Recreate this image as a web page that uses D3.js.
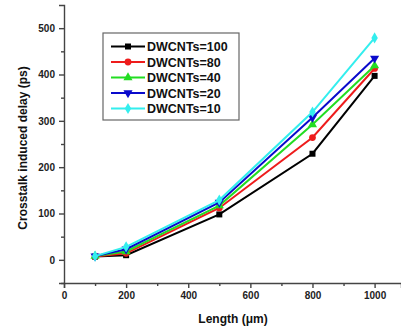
<!DOCTYPE html>
<html>
<head>
<meta charset="utf-8">
<script src="https://cdn.jsdelivr.net/npm/d3@7"></script>
<style>
  body { margin: 0; background: #fff; }
  text { font-family: "Liberation Sans", Arial, sans-serif; font-weight: bold; }
</style>
</head>
<body>
<div id="chart"></div>
<script>
// Data
const lengths = [100, 200, 500, 800, 1000];
const seriesNames = ["DWCNTs=100", "DWCNTs=80", "DWCNTs=40", "DWCNTs=20", "DWCNTs=10"];
const delay100 = [7, 10, 98, 229, 397];
const delay80 = [7, 14, 112, 264, 413];
const delay40 = [8, 18, 117, 292, 419];
const delay20 = [8, 23, 124, 307, 435];
const delay10 = [8, 28, 129, 319, 479];
const xTicks = [0, 200, 400, 600, 800, 1000];
const yTicks = [0, 100, 200, 300, 400, 500];

const colors = ["#000000", "#ee1c1c", "#22dd22", "#0a0acc", "#33eeee"];
const symbols = [d3.symbolSquare, d3.symbolCircle, d3.symbolTriangle, d3.symbolTriangle, d3.symbolDiamond];
const symbolRot = [0, 0, 0, 180, 0];
const allSeries = [delay100, delay80, delay40, delay20, delay10];

const W = 401, H = 332;
const margin = { left: 64, top: 5, right: 0, bottom: 49 };

const svg = d3.select("#chart").append("svg")
  .attr("width", W).attr("height", H);

const x = d3.scaleLinear().domain([0, 1085]).range([margin.left, W - margin.right]);
const y = d3.scaleLinear().domain([-50, 550]).range([H - margin.bottom, margin.top]);

// X axis with minor ticks
svg.append("g")
  .attr("transform", "translate(0," + (H - margin.bottom) + ")")
  .call(d3.axisBottom(x).tickValues(xTicks).tickFormat(d3.format("d")).tickSizeOuter(0).tickSize(5).tickPadding(4));
svg.append("g")
  .attr("transform", "translate(0," + (H - margin.bottom) + ")")
  .call(d3.axisBottom(x).tickValues([100, 300, 500, 700, 900]).tickFormat("").tickSize(3).tickSizeOuter(0))
  .select(".domain").remove();

// Y axis with minor ticks
svg.append("g")
  .attr("transform", "translate(" + margin.left + ",0)")
  .call(d3.axisLeft(y).tickValues(yTicks).tickFormat(d3.format("d")).tickSizeOuter(0).tickSize(5).tickPadding(4));
svg.append("g")
  .attr("transform", "translate(" + margin.left + ",0)")
  .call(d3.axisLeft(y).tickValues([-50, 50, 150, 250, 350, 450]).tickFormat("").tickSize(3).tickSizeOuter(0))
  .select(".domain").remove();

svg.selectAll(".domain, .tick line").attr("stroke", "#444").attr("stroke-width", 1.4);
svg.selectAll(".tick text").attr("font-size", 10).attr("fill", "#222");

// Axis titles
svg.append("text")
  .attr("x", 233).attr("y", 323)
  .attr("text-anchor", "middle")
  .attr("font-size", 12)
  .attr("fill", "#111")
  .text("Length (μm)");

svg.append("text")
  .attr("transform", "translate(27,148) rotate(-90)")
  .attr("text-anchor", "middle")
  .attr("font-size", 12)
  .attr("fill", "#111")
  .text("Crosstalk induced delay (ps)");

// Lines and markers
const line = d3.line().x((d, i) => x(lengths[i])).y(d => y(d));

allSeries.forEach((vals, s) => {
  svg.append("path")
    .datum(vals)
    .attr("d", line)
    .attr("fill", "none")
    .attr("stroke", colors[s])
    .attr("stroke-width", 2);
  svg.selectAll(".m" + s)
    .data(vals)
    .enter()
    .append("path")
    .attr("d", d3.symbol().type(symbols[s]).size(36))
    .attr("transform", (d, i) => "translate(" + x(lengths[i]) + "," + y(d) + ") rotate(" + symbolRot[s] + ")")
    .attr("fill", colors[s]);
});

// Legend
const legend = svg.append("g");
legend.append("rect")
  .attr("x", 103).attr("y", 33)
  .attr("width", 136).attr("height", 87)
  .attr("fill", "#fff")
  .attr("stroke", "#666")
  .attr("stroke-width", 1.2);

seriesNames.forEach((name, s) => {
  const ly = 46.5 + s * 15.5;
  legend.append("line")
    .attr("x1", 111).attr("x2", 145)
    .attr("y1", ly).attr("y2", ly)
    .attr("stroke", colors[s]).attr("stroke-width", 2);
  legend.append("path")
    .attr("d", d3.symbol().type(symbols[s]).size(36))
    .attr("transform", "translate(128," + ly + ") rotate(" + symbolRot[s] + ")")
    .attr("fill", colors[s]);
  legend.append("text")
    .attr("x", 147).attr("y", ly + 4.5)
    .attr("font-size", 12.5)
    .attr("fill", "#111")
    .text(name);
});
</script>
</body>
</html>
